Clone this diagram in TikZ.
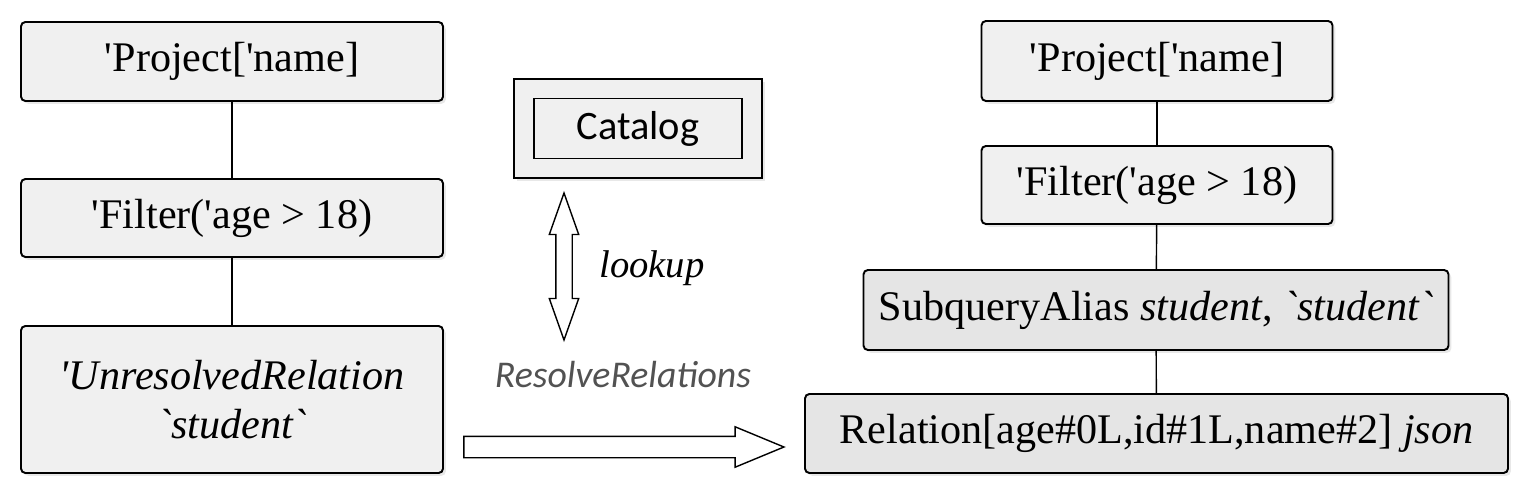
\documentclass[tikz,border=0pt]{standalone}
\usepackage{fontspec}
\setmainfont{Liberation Serif}[Ligatures=TeXOff]
\newfontfamily\calibri{Carlito}
\usetikzlibrary{shapes.arrows,shadows}

\tikzset{
opbox/.style={draw, line width=1.1pt, rounded corners=2.5pt, fill=gray!12, inner sep=0pt,
  drop shadow={shadow xshift=1.6pt, shadow yshift=-1.6pt, opacity=0.18},
  font=\fontsize{24}{28}\selectfont, align=center},
darkbox/.style={opbox, fill=gray!20},
link/.style={line width=0.8pt},
fat/.style={draw, line width=0.8pt, fill=white, inner xsep=0pt}
}

\begin{document}
\begin{tikzpicture}
\useasboundingbox (0,0) rectangle (30.46,9.78);
% unresolved plan
\node [opbox, minimum width=8.44cm, minimum height=1.58cm] (lproj) at (4.64,8.55) {'Project['name]};
\node [opbox, minimum width=8.44cm, minimum height=1.56cm] (lfilt) at (4.64,5.42) {'Filter('age > 18)};
\node [opbox, minimum width=8.44cm, minimum height=2.94cm] (lunres) at (4.64,1.79) {\itshape 'UnresolvedRelation\\\itshape `student`};
\draw [link] (lproj) -- (lfilt);
\draw [link] (lfilt) -- (lunres);

% catalog
\node [draw, line width=1.1pt, fill=gray!12, minimum width=4.96cm, minimum height=1.98cm,
  drop shadow={shadow xshift=1.6pt, shadow yshift=-1.6pt, opacity=0.18}] (catalog) at (12.76,7.21) {};
\node [draw, line width=1.1pt, fill=gray!12, minimum width=4.16cm, minimum height=1.2cm,
  font=\calibri\fontsize{23}{26}\selectfont] (catalogin) at (catalog.center) {Catalog};
\node [fat, double arrow, rotate=90, inner ysep=0.15cm, minimum height=2.94cm,
  double arrow head extend=0.13cm, double arrow tip angle=39] (lookuparrow) at (11.28,4.45) {};
\node [font=\fontsize{22}{26}\selectfont\itshape] (lookup) at (13.04,4.42) {lookup};
\node [font=\calibri\fontsize{21.5}{26}\selectfont\itshape, text=black!68] (resolve) at (12.46,2.28) {ResolveRelations};
\node [fat, single arrow, inner ysep=0.2cm, minimum height=6.4cm,
  single arrow head extend=0.19cm, single arrow tip angle=45] (resolvearrow) at (12.22,0.84) {};

% analyzed plan
\node [opbox, minimum width=7.02cm, minimum height=1.6cm] (rproj) at (23.14,8.56) {'Project['name]};
\node [opbox, minimum width=7.02cm, minimum height=1.56cm] (rfilt) at (23.14,6.08) {'Filter('age > 18)};
\node [darkbox, minimum width=11.7cm, minimum height=1.6cm] (ralias) at (23.12,3.58) {SubqueryAlias \textit{student}, \textit{`student`}};
\node [darkbox, minimum width=14.06cm, minimum height=1.58cm] (rrel) at (23.13,1.11) {Relation[age\#0L,id\#1L,name\#2] \textit{json}};
\draw [link] (rproj) -- (rfilt);
\draw [link] (rfilt) -- (ralias);
\draw [link] (ralias) -- (rrel);
\end{tikzpicture}
\end{document}
